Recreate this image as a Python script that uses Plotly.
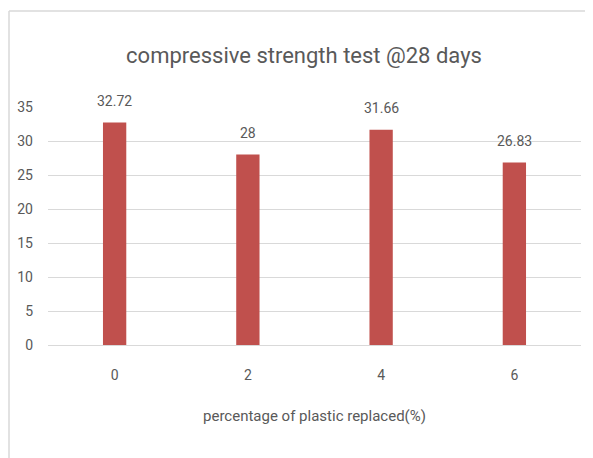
import plotly.graph_objects as go

categories = ["0", "2", "4", "6"]
values = [32.72, 28, 31.66, 26.83]
value_labels = ["32.72", "28", "31.66", "26.83"]
y_ticks = [0, 5, 10, 15, 20, 25, 30, 35]

FONT = "Roboto, sans-serif"
GRAY = "#595959"

W, H = 585, 458
L, R, T, B = 40, 12, 99, 121
PW, PH = W - L - R, H - T - B

fig = go.Figure()
fig.add_trace(go.Bar(
    x=categories, y=values,
    marker=dict(color="#C0504D", line=dict(width=0)),
    width=0.175,
))

for i, (v, t) in enumerate(zip(values, value_labels)):
    fig.add_annotation(x=i, y=v, text=t, showarrow=False, yshift=22,
                       font=dict(family=FONT, size=14, color=GRAY))

# chart-area border: top and left edges (right/bottom lie outside the picture)
x_left = (1 - L) / PW
y_top = 1 + (T - 3) / PH
fig.add_shape(type="line", xref="paper", yref="paper",
              x0=x_left, x1=1 + (R + 5) / PW, y0=y_top, y1=y_top,
              line=dict(color="#D9D9D9", width=1.5), layer="below")
fig.add_shape(type="line", xref="paper", yref="paper",
              x0=x_left, x1=x_left, y0=-(B + 5) / PH, y1=y_top,
              line=dict(color="#D9D9D9", width=1.5), layer="below")

fig.update_layout(
    width=W, height=H,
    margin=dict(l=L, r=R, t=T, b=B),
    paper_bgcolor="white", plot_bgcolor="white",
    showlegend=False,
    title=dict(text="compressive strength test @28 days", x=296/W, xanchor="center",
               y=1 - 47/H, yanchor="middle",
               font=dict(family=FONT, size=22, color=GRAY)),
    xaxis=dict(type="category", showgrid=False, showline=False, ticks="",
               automargin=False, ticklabelstandoff=20,
               tickfont=dict(family=FONT, size=14, color=GRAY),
               title=dict(text="percentage of plastic replaced(%)", standoff=28,
                          font=dict(family=FONT, size=15, color=GRAY))),
    yaxis=dict(range=[0, 35], tickvals=y_ticks, showgrid=True, gridcolor="#D9D9D9",
               gridwidth=1, zeroline=True, zerolinecolor="#D9D9D9", zerolinewidth=1,
               showline=False, ticks="", ticklabelstandoff=14, automargin=False,
               tickfont=dict(family=FONT, size=14, color=GRAY)),
)

fig.write_html("out.html")
